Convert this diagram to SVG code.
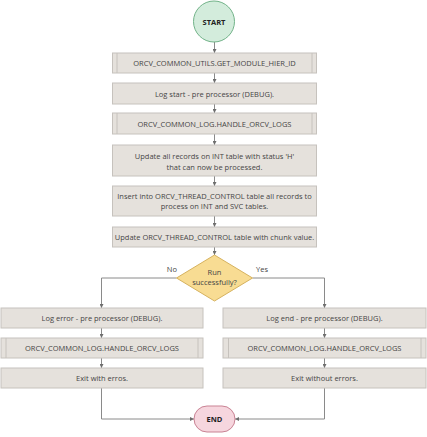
<svg xmlns="http://www.w3.org/2000/svg" width="427" height="437" viewBox="0 0 427 437">
<style>
.box{fill:#e5e1dc;stroke:#c6c2bd;stroke-width:1}
.sub{stroke:#c6c2bd;stroke-width:1}
.t{font-family:"Open Sans","Noto Sans",sans-serif;font-size:7.5px;fill:#454545;text-anchor:middle}
.b{font-weight:bold;fill:#222}
.c{fill:none;stroke:#8a8a8a;stroke-width:1}
</style>
<defs>
<marker id="ah" viewBox="0 0 6 6" refX="6" refY="3" markerWidth="4" markerHeight="4" orient="auto" markerUnits="userSpaceOnUse">
<path d="M0,0 L6,3 L0,6 z" fill="#6e6e6e"/>
</marker>
</defs>
<rect width="427" height="437" fill="#ffffff"/>
<g id="connectors">
<path class="c" d="M214.5,42 V53" marker-end="url(#ah)"/>
<path class="c" d="M214.5,73 V83" marker-end="url(#ah)"/>
<path class="c" d="M214.5,104 V113" marker-end="url(#ah)"/>
<path class="c" d="M214.5,134 V145" marker-end="url(#ah)"/>
<path class="c" d="M214.5,176 V186" marker-end="url(#ah)"/>
<path class="c" d="M214.5,216 V227" marker-end="url(#ah)"/>
<path class="c" d="M214.5,247 V255" marker-end="url(#ah)"/>
<path class="c" d="M176.5,278 H101.5 V308" marker-end="url(#ah)"/>
<path class="c" d="M252.5,278 H324.5 V308" marker-end="url(#ah)"/>
<path class="c" d="M101.5,328 V338" marker-end="url(#ah)"/>
<path class="c" d="M101.5,358 V368" marker-end="url(#ah)"/>
<path class="c" d="M324.5,328 V338" marker-end="url(#ah)"/>
<path class="c" d="M324.5,358 V368" marker-end="url(#ah)"/>
<path class="c" d="M101.5,388 V419 H194" marker-end="url(#ah)"/>
<path class="c" d="M324.5,388 V419 H235" marker-end="url(#ah)"/>
<text class="t" x="177" y="272" style="text-anchor:end">No</text>
<text class="t" x="256" y="272" style="text-anchor:start">Yes</text>
</g>
<g id="start">
<circle cx="214" cy="21.5" r="20.5" fill="#d3ecdc" stroke="#72b389" stroke-width="1"/>
<text class="t b" x="214" y="24.5">START</text>
</g>
<g id="n1">
<rect class="box" x="112.5" y="53" width="204" height="20"/>
<line class="sub" x1="117" y1="53" x2="117" y2="73"/>
<line class="sub" x1="312" y1="53" x2="312" y2="73"/>
<text class="t" x="214.5" y="66.2">ORCV_COMMON_UTILS.GET_MODULE_HIER_ID</text>
</g>
<g id="n2">
<rect class="box" x="112.5" y="83" width="204" height="21"/>
<text class="t" x="214.5" y="96.7">Log start - pre processor (DEBUG).</text>
</g>
<g id="n3">
<rect class="box" x="112.5" y="113" width="204" height="21"/>
<line class="sub" x1="117" y1="113" x2="117" y2="134"/>
<line class="sub" x1="312" y1="113" x2="312" y2="134"/>
<text class="t" x="214.5" y="126.7">ORCV_COMMON_LOG.HANDLE_ORCV_LOGS</text>
</g>
<g id="n4">
<rect class="box" x="112.5" y="145" width="204" height="31"/>
<text class="t" x="214.5" y="159">Update all records on INT table with status 'H'</text>
<text class="t" x="214.5" y="169.5">that can now be processed.</text>
</g>
<g id="n5">
<rect class="box" x="112.5" y="186" width="204" height="30"/>
<text class="t" x="214.5" y="199">Insert into ORCV_THREAD_CONTROL table all records to</text>
<text class="t" x="214.5" y="209">process on INT and SVC tables.</text>
</g>
<g id="n6">
<rect class="box" x="112.5" y="227" width="204" height="20"/>
<text class="t" x="214.5" y="240">Update ORCV_THREAD_CONTROL table with chunk value.</text>
</g>
<g id="decision">
<polygon points="214.5,255 252.5,278 214.5,301 176.5,278" fill="#f8dc93" stroke="#d6b25e" stroke-width="1"/>
<text class="t" x="214.5" y="275">Run</text>
<text class="t" x="214.5" y="285">successfully?</text>
</g>
<g id="l1">
<rect class="box" x="1" y="308" width="202" height="20"/>
<text class="t" x="102" y="321.2">Log error - pre processor (DEBUG).</text>
</g>
<g id="l2">
<rect class="box" x="1" y="338" width="202" height="20"/>
<line class="sub" x1="6" y1="338" x2="6" y2="358"/>
<line class="sub" x1="198" y1="338" x2="198" y2="358"/>
<text class="t" x="102" y="351.2">ORCV_COMMON_LOG.HANDLE_ORCV_LOGS</text>
</g>
<g id="l3">
<rect class="box" x="1" y="368" width="202" height="20"/>
<text class="t" x="102" y="381.2">Exit with erros.</text>
</g>
<g id="r1">
<rect class="box" x="223" y="308" width="203" height="20"/>
<text class="t" x="324.5" y="321.2">Log end - pre processor (DEBUG).</text>
</g>
<g id="r2">
<rect class="box" x="223" y="338" width="203" height="20"/>
<line class="sub" x1="228.5" y1="338" x2="228.5" y2="358"/>
<line class="sub" x1="421" y1="338" x2="421" y2="358"/>
<text class="t" x="324.5" y="351.2">ORCV_COMMON_LOG.HANDLE_ORCV_LOGS</text>
</g>
<g id="r3">
<rect class="box" x="223" y="368" width="203" height="20"/>
<text class="t" x="324.5" y="381.2">Exit without errors.</text>
</g>
<g id="end">
<rect x="194" y="406" width="41" height="26" rx="13" ry="13" fill="#f6d6de" stroke="#c98394" stroke-width="1"/>
<text class="t b" x="214.5" y="421.7">END</text>
</g>
</svg>
